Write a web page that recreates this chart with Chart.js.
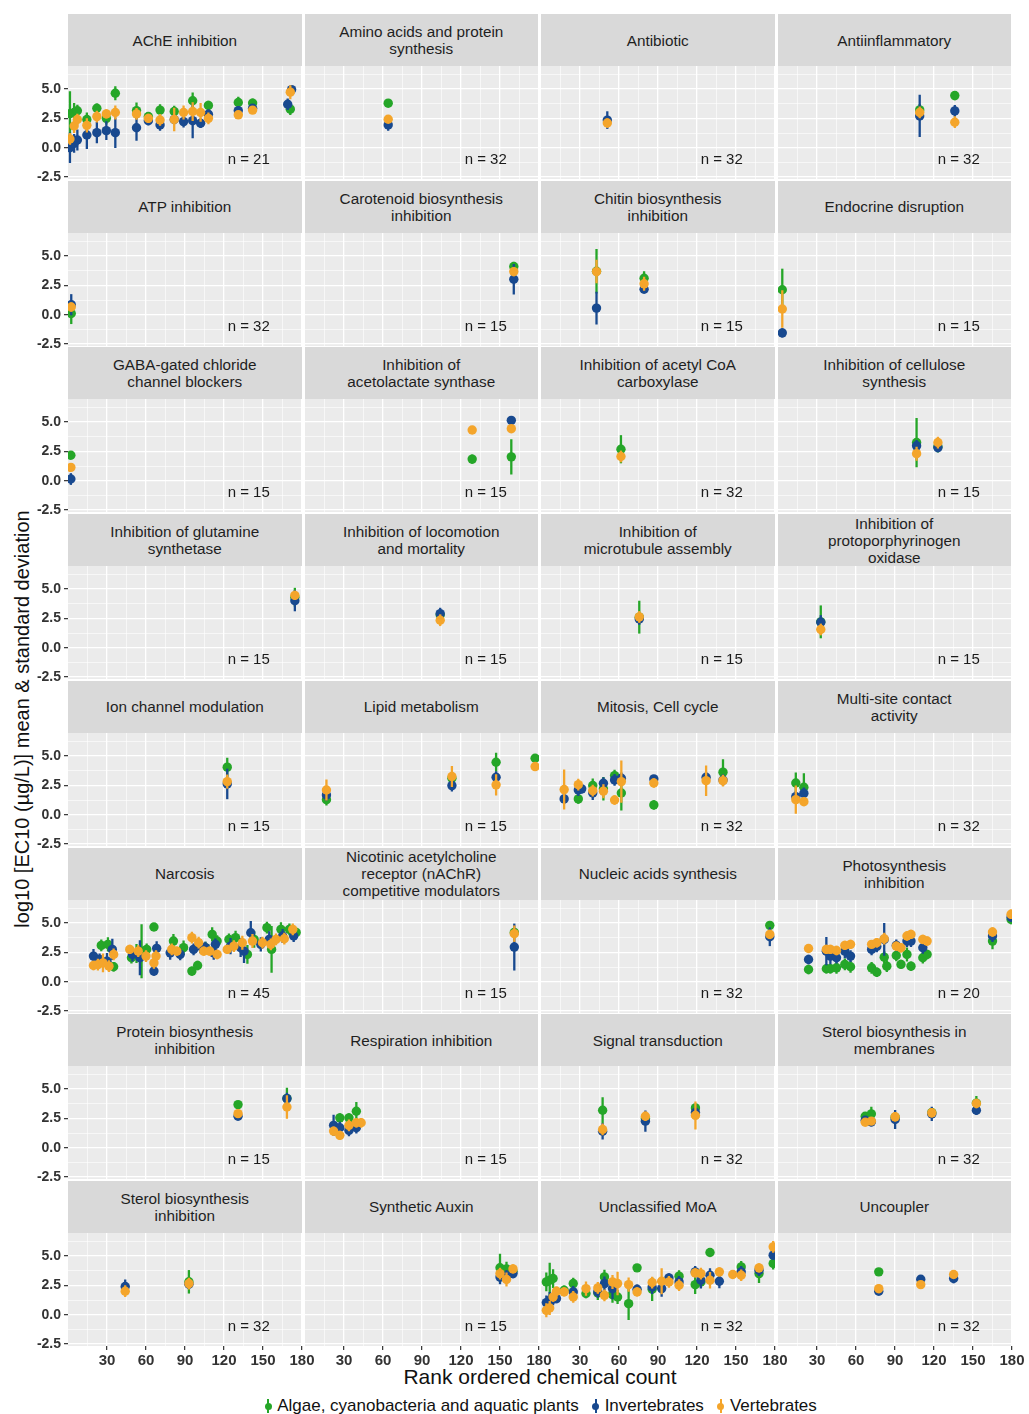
<!DOCTYPE html>
<html>
<head>
<meta charset="utf-8">
<script src="https://cdn.jsdelivr.net/npm/chart.js@4.4.1/dist/chart.umd.min.js"></script>
<style>
  body { margin:0; background:#fff; width:1029px; height:1414px; position:relative; overflow:hidden;
         font-family:"Liberation Sans", Arial, sans-serif; color:#1a1a1a; }
  .strip { position:absolute; background:#d9d9d9; display:flex; align-items:center; justify-content:center;
           text-align:center; font-size:15.3px; line-height:17px; color:#1f1f1f; }
  .panel { position:absolute; }
  .ytitle { position:absolute; left:22px; top:719px; transform:translate(-50%,-50%) rotate(-90deg);
            white-space:nowrap; font-size:20px; color:#111; }
  .xtitle { position:absolute; left:540px; top:1377px; transform:translate(-50%,-50%);
            white-space:nowrap; font-size:21px; color:#111; }
  .legend { position:absolute; left:0; width:1080px; top:1396px; display:flex; justify-content:center;
            font-size:17px; color:#111; gap:12px; }
  .legend span.item { display:flex; align-items:center; }
  .key { display:inline-block; position:relative; width:10px; height:16px; margin-right:4px; }
  .key::before { content:''; position:absolute; left:4px; top:1px; width:2px; height:14px; background:var(--c); }
  .key::after { content:''; position:absolute; left:1.5px; top:5px; width:7px; height:7px; border-radius:50%; background:var(--c); }
</style>
</head>
<body>
<div class="ytitle">log10 [EC10 (µg/L)] mean &amp; standard deviation</div>
<div class="xtitle">Rank ordered chemical count</div>
<div class="legend" id="legend"></div>
<script>
// Facet titles (row-major, 4 per row)
const panelTitles = [
  "AChE inhibition", "Amino acids and protein\nsynthesis", "Antibiotic", "Antiinflammatory",
  "ATP inhibition", "Carotenoid biosynthesis\ninhibition", "Chitin biosynthesis\ninhibition", "Endocrine disruption",
  "GABA-gated chloride\nchannel blockers", "Inhibition of\nacetolactate synthase", "Inhibition of acetyl CoA\ncarboxylase", "Inhibition of cellulose\nsynthesis",
  "Inhibition of glutamine\nsynthetase", "Inhibition of locomotion\nand mortality", "Inhibition of\nmicrotubule assembly", "Inhibition of\nprotoporphyrinogen\noxidase",
  "Ion channel modulation", "Lipid metabolism", "Mitosis, Cell cycle", "Multi-site contact\nactivity",
  "Narcosis", "Nicotinic acetylcholine\nreceptor (nAChR)\ncompetitive modulators", "Nucleic acids synthesis", "Photosynthesis\ninhibition",
  "Protein biosynthesis\ninhibition", "Respiration inhibition", "Signal transduction", "Sterol biosynthesis in\nmembranes",
  "Sterol biosynthesis\ninhibition", "Synthetic Auxin", "Unclassified MoA", "Uncoupler"
];

// Sample counts annotated in each facet
const panelCounts = [21, 32, 32, 32, 32, 15, 15, 15, 15, 15, 32, 15, 15, 15, 15, 15,
                     15, 15, 32, 32, 45, 15, 32, 20, 15, 15, 32, 32, 32, 15, 32, 32];

const seriesNames = ["Algae, cyanobacteria and aquatic plants", "Invertebrates", "Vertebrates"];
const seriesColors = ["#25a628", "#18498f", "#f4a52b"];

const xTicks = [30, 60, 90, 120, 150, 180];
const yTicks = [-2.5, 0, 2.5, 5];

// Each entry: [rank, mean log10 EC10, standard deviation]; one list per facet
const algae = [
  [[1.5,2.9,1.9],[4.7,3.0,0.8],[7.2,3.15,0.5],[14.5,2.4,0.6],[22.2,3.36,0.4],[29.5,2.5,0.5],[36.4,4.64,0.6],[52.7,3.16,0.7],[61.8,2.65,0.4],[70.8,3.2,0.5],[81.7,3.08,0.5],[95.9,4.0,0.7],[108,3.6,0.4],[131,3.85,0.5],[142,3.8,0.4],[171,3.28,0.5]],
  [[64,3.79,0.2]],
  [],
  [[109,3.22,0.5],[136,4.44,0.4]],
  [[2.5,0.1,0.9]],
  [[160.6,4.1,0.4]],
  [[42.7,3.7,1.9],[79.3,3.1,0.6]],
  [[3.3,2.12,1.8]],
  [[2.2,2.17,0.3]],
  [[128.6,1.84,0.4],[158.7,2.03,1.5]],
  [[61.5,2.68,1.2]],
  [[106.6,3.25,2.1],[123,2.9,0.5]],
  [[174.5,4.3,0.8]],
  [[104,2.8,0.4]],
  [[75.6,2.6,1.4]],
  [[32.9,2.2,1.4]],
  [[122.5,4.05,0.8]],
  [[16.5,1.28,0.5],[113,3.1,0.5],[147,4.47,0.8],[177,4.81,0.3]],
  [[28.7,1.34,0.4],[39.8,2.48,0.6],[48,2.2,1.0],[56.6,3.33,0.5],[61.8,1.85,1.5],[86.8,0.83,0.4],[140,3.62,1.1]],
  [[13.7,2.7,0.9],[19.9,2.34,1.2]],
  [[25.6,3.09,0.5],[30.7,3.18,0.6],[35.1,1.27,0.4],[48.8,2.04,0.5],[52.7,2.4,0.8],[56.6,2.6,2.3],[60.5,2.75,0.5],[66.1,4.66,0.3],[81.1,3.46,0.6],[88.9,2.9,0.6],[95.3,0.9,0.4],[99.7,1.38,0.4],[105.7,2.9,0.5],[110.9,4.03,0.6],[114.7,3.46,0.5],[123.8,3.6,0.5],[128.9,3.75,0.6],[138,2.32,0.8],[143.2,3.6,0.7],[153,4.6,0.5],[156.6,2.75,2.0],[163.8,4.46,0.6],[170.3,4.46,0.5],[175.5,4.2,0.4]],
  [[161,4.2,0.3]],
  [[176,4.8,0.3]],
  [[23.5,1.04,0.4],[37.2,1.1,0.4],[40.3,1.1,0.4],[45,1.18,0.5],[51.4,1.47,0.5],[55.8,1.27,0.5],[72,1.18,0.5],[76,0.8,0.4],[81.7,2.09,0.5],[83.7,1.32,0.5],[91,2.23,0.5],[94.6,1.47,0.4],[99.2,2.32,0.6],[102.3,1.32,0.4],[111.4,2.04,0.5],[114.7,2.32,0.4],[165,3.46,0.7],[179.3,5.3,0.4]],
  [[130.8,3.67,0.3],[168.4,4.2,0.9]],
  [[26.8,2.54,0.4],[33.8,2.54,0.4],[39.5,3.1,0.8]],
  [[47.4,3.19,1.1],[80.3,2.5,0.4],[118.8,3.39,0.3]],
  [[67.1,2.68,0.3],[71.8,2.88,0.6],[90.1,2.6,0.3],[118.3,3.0,0.3],[152.6,3.8,0.6]],
  [[93,2.8,1.0]],
  [[150,4.0,1.2],[155,3.9,0.6],[160,3.7,0.5]],
  [[4.1,2.79,0.8],[6.7,2.93,1.5],[9.3,3.08,0.8],[17.8,2.08,0.4],[24.8,2.65,0.5],[34.6,1.8,0.4],[43.7,1.85,0.6],[48.8,3.22,0.6],[55,1.71,0.7],[58.9,1.51,0.6],[67.4,0.94,1.4],[73.9,3.99,0.3],[85.5,2.17,1.0],[106.2,3.28,0.5],[118.6,2.56,0.8],[123,2.79,0.5],[130,5.3,0.3],[154,4.07,0.5],[167.7,3.5,0.8],[178.6,4.36,0.5]],
  [[77.5,3.65,0.2]]
];

const invertebrates = [
  [[1.5,0.0,1.3],[4.7,0.37,0.8],[7.2,0.65,0.9],[14.5,1.08,1.2],[22.2,1.28,0.9],[29.5,1.45,0.8],[36.4,1.28,1.3],[52.7,1.7,1.1],[61.8,2.3,0.4],[70.8,1.94,0.5],[81.7,2.4,0.4],[88.9,2.22,0.5],[95.9,2.3,1.5],[102,2.08,0.4],[108,2.85,0.4],[131,3.16,0.4],[142,3.36,0.3],[169,3.7,0.5],[172,4.95,0.3]],
  [[64,1.94,0.5]],
  [[51,2.35,0.75]],
  [[109,2.7,1.8],[136,3.13,0.5]],
  [[2.5,0.85,0.9]],
  [[160.6,3.02,1.3]],
  [[42.7,0.56,1.4],[79.3,2.17,0.3]],
  [[3.3,-1.55,0.4]],
  [[2.2,0.14,0.5]],
  [[158.7,5.14,0.2]],
  [],
  [[106.6,2.97,0.5],[123,2.82,0.4]],
  [[174.5,4.0,0.9]],
  [[104,2.9,0.5]],
  [[75.6,2.45,0.5]],
  [[32.9,2.17,0.6]],
  [[122.5,2.62,1.3]],
  [[16.5,1.68,0.5],[113,2.48,0.5],[147,3.19,0.5]],
  [[17.8,1.34,0.4],[28.7,2.1,0.5],[31.3,2.2,0.4],[39.8,1.85,0.6],[48,2.68,0.5],[56.6,2.96,0.5],[61.8,3.1,0.5],[86.8,3.05,0.3],[127,3.19,0.4],[140,2.95,0.5]],
  [[13.7,1.54,0.5],[19.9,1.82,0.5]],
  [[19.6,2.18,0.6],[24.3,1.9,0.5],[30,1.75,0.7],[34.1,2.75,0.9],[49.6,2.32,0.6],[55.3,2.04,1.5],[66.1,0.9,0.4],[68.2,2.84,0.6],[78.6,2.46,0.6],[86.3,2.32,0.5],[96.6,2.75,0.5],[101.8,3.03,0.6],[105.7,2.9,0.5],[112.1,2.46,0.6],[113.4,3.18,0.5],[125,3.03,0.7],[132.8,2.9,0.8],[135.4,2.6,1.0],[140.6,4.17,1.0],[148.3,3.18,0.6],[154.8,3.6,0.7],[165.1,3.89,0.6],[173.6,3.89,0.5]],
  [[161,2.95,2.0]],
  [[176,3.83,0.8]],
  [[23.5,1.89,0.4],[37.2,2.6,1.2],[40.3,2.18,0.7],[45,2.04,0.5],[51.4,2.6,0.6],[55.8,2.18,0.5],[72,2.75,0.5],[76,3.0,0.5],[81.7,3.6,1.4],[91,3.09,0.5],[99.2,3.46,0.5],[102.3,3.46,0.5],[111.4,2.89,0.5],[165,3.89,0.5],[179.3,5.5,0.4]],
  [[130.8,2.68,0.3],[168.4,4.18,0.5]],
  [[22,1.9,0.9],[26.8,1.7,0.5],[33.8,1.47,0.5],[39.5,1.7,0.5]],
  [[47.4,1.4,0.7],[80.3,2.26,0.9],[118.8,3.0,0.4]],
  [[67.1,2.34,0.3],[71.8,2.2,0.4],[90.1,2.4,0.8],[118.3,2.88,0.6],[152.6,3.19,0.4]],
  [[44,2.4,0.6],[93,2.6,0.4]],
  [[150,3.2,0.6],[155,3.3,0.5],[160,3.5,0.4]],
  [[4.1,1.03,0.6],[6.7,1.23,0.7],[9.3,1.31,0.5],[11.9,1.37,0.4],[24.8,1.94,0.5],[43.7,1.94,0.5],[48.8,2.65,0.6],[55,2.22,0.9],[73.9,2.17,0.4],[85.5,2.36,0.6],[92.8,2.22,0.7],[98.4,3.13,0.4],[106.2,2.79,0.5],[118.6,3.65,0.5],[123,2.93,0.7],[130,3.36,0.6],[137.2,2.85,0.6],[154,3.65,0.5],[167.7,3.79,0.5],[178.6,5.07,0.4]],
  [[77.5,2.0,0.3],[109.8,3.02,0.3],[135.1,3.08,0.4]]
];

const vertebrates = [
  [[1.5,0.74,0.5],[4.7,1.85,0.6],[7.2,2.4,0.5],[14.5,1.9,0.6],[22.2,2.65,0.5],[29.5,2.88,0.4],[36.4,3.0,0.6],[52.7,2.88,0.5],[61.8,2.5,0.4],[70.8,2.36,0.5],[81.7,2.4,1.0],[88.9,3.0,0.6],[95.9,3.08,0.8],[102,3.0,0.8],[108,2.5,0.5],[131,2.8,0.3],[142,3.2,0.3],[171,4.73,0.6]],
  [[64,2.42,0.3]],
  [[51,2.1,0.4]],
  [[109,3.0,0.5],[136,2.17,0.5]],
  [[2.5,0.65,0.4]],
  [[160.6,3.67,0.4]],
  [[42.7,3.67,1.0],[79.3,2.63,0.6]],
  [[3.3,0.48,1.6]],
  [[2.2,1.13,0.3]],
  [[128.6,4.32,0.2],[158.7,4.43,0.3]],
  [[61.5,2.06,0.5]],
  [[106.6,2.3,0.6],[123,3.25,0.5]],
  [[174.5,4.46,0.4]],
  [[104,2.34,0.5]],
  [[75.6,2.62,0.5]],
  [[32.9,1.55,0.5]],
  [[122.5,2.82,0.6]],
  [[16.5,2.1,0.9],[113,3.25,0.9],[147,2.54,0.9],[177,4.1,0.3]],
  [[17.8,2.14,1.7],[28.7,2.56,0.5],[39.8,2.05,0.5],[48,2.0,0.6],[56.6,1.25,0.4],[61.8,2.82,1.8],[86.8,2.7,0.4],[127,2.9,1.3],[140,2.9,0.5]],
  [[13.7,1.28,1.2],[19.9,1.11,0.4]],
  [[19.6,1.38,0.4],[23,1.45,0.5],[26.9,1.6,0.8],[31.5,1.32,0.5],[35.1,2.32,0.5],[47.5,2.75,0.4],[54,2.6,0.5],[60,2.18,0.5],[66.1,1.6,0.5],[67.7,2.18,0.5],[79.8,2.75,0.5],[83.7,2.6,0.4],[95.3,3.75,0.5],[100.5,3.32,0.5],[104.4,2.6,0.4],[109,2.6,0.4],[114.7,2.32,0.4],[122.5,2.75,0.4],[127.6,3.03,0.5],[134.1,3.32,0.6],[141.9,3.46,0.6],[149.6,3.32,0.5],[156,3.18,0.5],[160,3.6,0.5],[166.4,3.66,0.5],[172.9,4.46,0.5]],
  [[161,4.09,0.7]],
  [[176,4.03,0.4]],
  [[23.5,2.83,0.3],[37.2,2.75,0.4],[40.3,2.75,0.4],[45,2.66,0.4],[51.4,3.09,0.4],[55.8,3.18,0.4],[72,3.18,0.3],[76,3.32,0.4],[81.7,3.66,0.5],[91,3.03,0.4],[94.6,2.89,0.4],[99.2,3.89,0.4],[102.3,4.03,0.4],[111.4,3.6,0.4],[114.7,3.46,0.4],[165,4.23,0.4],[179.3,5.74,0.4]],
  [[130.8,2.9,0.3],[168.4,3.47,1.0]],
  [[22,1.41,0.4],[26.8,1.05,0.4],[33.8,1.9,0.5],[39.5,2.12,0.4],[43.2,2.12,0.4]],
  [[47.4,1.55,0.5],[80.3,2.68,0.4],[118.8,2.74,1.2]],
  [[67.1,2.17,0.3],[71.8,2.26,0.3],[90.1,2.63,0.4],[118.3,2.97,0.4],[152.6,3.76,0.4]],
  [[44,2.0,0.5],[93,2.65,0.5]],
  [[150,3.5,0.5],[155,3.0,0.6],[160,3.9,0.4]],
  [[4.1,0.37,0.6],[6.7,0.57,0.6],[9.3,1.51,0.4],[11.9,2.0,0.4],[17.8,1.94,0.4],[24.8,1.51,0.5],[34.6,2.22,0.6],[43.7,2.28,0.5],[48.8,1.65,0.5],[55,2.79,0.6],[58.9,2.65,1.0],[67.4,2.56,0.6],[73.9,1.94,0.4],[85.5,2.74,0.5],[92.8,2.85,1.1],[98.4,2.79,0.5],[106.2,2.51,0.5],[118.6,3.56,0.4],[123,3.5,0.5],[130,2.93,0.7],[137.2,3.65,0.4],[147.5,3.42,0.3],[154,3.36,0.5],[167.7,3.99,0.4],[178.6,5.78,0.5]],
  [[77.5,2.22,0.4],[109.8,2.56,0.3],[135.1,3.42,0.3]]
];

// ---------- layout ----------
const GRID_LEFT = 68, GRID_RIGHT = 1011, GAP = 3;
const PANEL_W = (GRID_RIGHT - GRID_LEFT - 3 * GAP) / 4;
const ROW_TOP = 14, ROW_STEP = 166.7, STRIP_H = 52, PLOT_H = 113;
const Y_AXIS_W = 40, X_AXIS_H = 24, PAD = 16, LABEL_OVERHANG = 9;
const X_MIN = 0, X_MAX = 180, Y_MIN = -2.67, Y_MAX = 6.96;
const N_LABEL_X = 139, N_LABEL_Y = -1.0;

// grey panel background behind grid and marks
const panelBackground = {
  id: 'panelBackground',
  beforeDraw(chart) {
    const { ctx, chartArea: a } = chart;
    ctx.save();
    ctx.fillStyle = '#ebebeb';
    ctx.fillRect(a.left, a.top, a.right - a.left, a.bottom - a.top);
    ctx.restore();
  }
};

// vertical error bars (mean ± sd) drawn beneath each series' points
const errorBars = {
  id: 'errorBars',
  beforeDatasetDraw(chart, args) {
    const ds = chart.data.datasets[args.index];
    const { ctx, chartArea: a, scales: { x, y } } = chart;
    ctx.save();
    ctx.beginPath();
    ctx.rect(a.left, a.top, a.right - a.left, a.bottom - a.top);
    ctx.clip();
    ctx.strokeStyle = ds.backgroundColor;
    ctx.lineWidth = 2.3;
    ctx.beginPath();
    ds.data.forEach(p => {
      const px = x.getPixelForValue(p.x);
      ctx.moveTo(px, y.getPixelForValue(p.y - p.sd));
      ctx.lineTo(px, y.getPixelForValue(p.y + p.sd));
    });
    ctx.stroke();
    ctx.restore();
  }
};

// "n = .." annotation placed in data coordinates
const countLabel = {
  id: 'countLabel',
  afterDatasetsDraw(chart, args, opts) {
    const { ctx, scales: { x, y } } = chart;
    ctx.save();
    ctx.font = '15px "Liberation Sans", Arial, sans-serif';
    ctx.fillStyle = '#1a1a1a';
    ctx.textAlign = 'center';
    ctx.textBaseline = 'middle';
    ctx.fillText('n = ' + opts.n, x.getPixelForValue(N_LABEL_X), y.getPixelForValue(N_LABEL_Y));
    ctx.restore();
  }
};

const toPoints = arr => arr.map(([x, y, sd]) => ({ x, y, sd }));
const minorX = [];
for (let v = 15; v <= 180; v += 15) minorX.push(v);
const minorY = [];
for (let v = -2.5; v <= 6.25; v += 1.25) minorY.push(v);
const isMajorX = v => xTicks.includes(v);
const isMajorY = v => yTicks.some(t => Math.abs(t - v) < 1e-9);

panelTitles.forEach((title, i) => {
  const r = Math.floor(i / 4), c = i % 4;
  const left = GRID_LEFT + c * (PANEL_W + GAP);
  const stripTop = ROW_TOP + r * ROW_STEP;
  const plotTop = stripTop + STRIP_H;

  const strip = document.createElement('div');
  strip.className = 'strip';
  strip.style.left = left + 'px';
  strip.style.top = stripTop + 'px';
  strip.style.width = PANEL_W + 'px';
  strip.style.height = STRIP_H + 'px';
  strip.innerHTML = title.split('\n').join('<br>');
  document.body.appendChild(strip);

  const showY = c === 0, showX = r === 7;
  // room below the panel so the lowest y label is not cut off
  const padBottom = (showY && !showX) ? LABEL_OVERHANG : 0;
  const extraL = PAD + (showY ? Y_AXIS_W : 0);
  const w = Math.round(PANEL_W + extraL + PAD);
  const h = Math.round(PLOT_H + (showX ? X_AXIS_H : 0) + padBottom);
  const canvas = document.createElement('canvas');
  canvas.className = 'panel';
  canvas.width = w; canvas.height = h;
  canvas.style.left = (left - extraL) + 'px';
  canvas.style.top = plotTop + 'px';
  canvas.style.width = w + 'px';
  canvas.style.height = h + 'px';
  document.body.appendChild(canvas);

  const groups = [algae, invertebrates, vertebrates];
  const datasets = groups.map((g, s) => ({
    label: seriesNames[s],
    data: toPoints(g[i]),
    backgroundColor: seriesColors[s],
    borderColor: seriesColors[s],
    borderWidth: 0,
    pointRadius: 4.7,
    pointHoverRadius: 4.7,
    clip: 0,
    order: 3 - s
  }));

  new Chart(canvas, {
    type: 'scatter',
    data: { datasets },
    plugins: [panelBackground, errorBars, countLabel],
    options: {
      responsive: false,
      animation: false,
      devicePixelRatio: 1,
      layout: { autoPadding: false, padding: { left: PAD, right: PAD, top: 0, bottom: padBottom } },
      plugins: { legend: { display: false }, tooltip: { enabled: false }, countLabel: { n: panelCounts[i] } },
      scales: {
        x: {
          type: 'linear', min: X_MIN, max: X_MAX,
          afterBuildTicks: s => { s.ticks = minorX.map(v => ({ value: v })); },
          afterFit: s => { s.height = showX ? X_AXIS_H : 0; s.paddingLeft = 0; s.paddingRight = 0; },
          border: { display: false },
          grid: {
            color: '#ffffff',
            lineWidth: ctx => (ctx.tick && isMajorX(ctx.tick.value)) ? 1.3 : 0.6,
            drawTicks: showX, tickLength: 4,
            tickColor: ctx => (ctx.tick && isMajorX(ctx.tick.value)) ? '#333' : 'rgba(0,0,0,0)',
            tickWidth: 1.2
          },
          ticks: {
            display: showX, autoSkip: false, maxRotation: 0, padding: 2,
            color: '#333', font: { size: 15, weight: 'bold', family: '"Liberation Sans", Arial, sans-serif' },
            callback: v => isMajorX(v) ? String(v) : ''
          }
        },
        y: {
          type: 'linear', min: Y_MIN, max: Y_MAX,
          afterBuildTicks: s => { s.ticks = minorY.map(v => ({ value: v })); },
          afterFit: s => { s.width = showY ? Y_AXIS_W : 0; s.paddingTop = 0; s.paddingBottom = 0; },
          border: { display: false },
          grid: {
            color: '#ffffff',
            lineWidth: ctx => (ctx.tick && isMajorY(ctx.tick.value)) ? 1.3 : 0.6,
            drawTicks: showY, tickLength: 4,
            tickColor: ctx => (ctx.tick && isMajorY(ctx.tick.value)) ? '#333' : 'rgba(0,0,0,0)',
            tickWidth: 1.2
          },
          ticks: {
            display: showY, autoSkip: false, padding: 3,
            color: '#333', font: { size: 14, weight: 'bold', family: '"Liberation Sans", Arial, sans-serif' },
            callback: v => isMajorY(v) ? v.toFixed(1) : ''
          }
        }
      }
    }
  });
});

// legend
const legend = document.getElementById('legend');
seriesNames.forEach((name, s) => {
  const item = document.createElement('span');
  item.className = 'item';
  item.innerHTML = '<span class="key" style="--c:' + seriesColors[s] + '"></span>' + name;
  legend.appendChild(item);
});
</script>
</body>
</html>
